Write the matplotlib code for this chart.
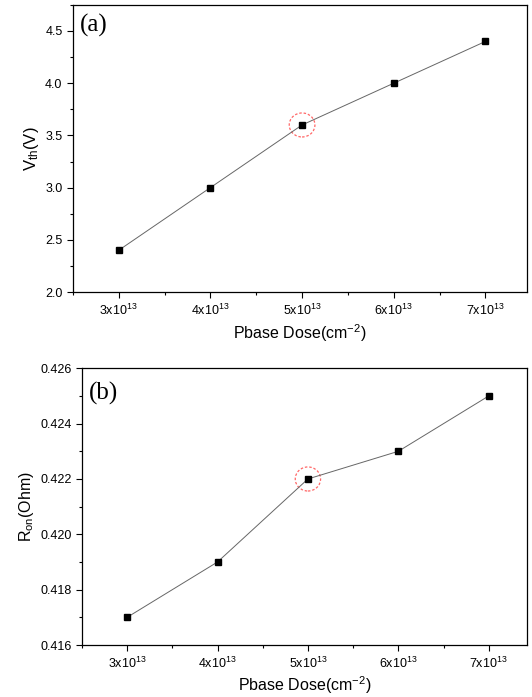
import matplotlib
matplotlib.use("Agg")
import matplotlib.pyplot as plt
from matplotlib.ticker import MultipleLocator, FuncFormatter
from matplotlib.patches import Ellipse

plt.rcParams["font.family"] = ["Liberation Sans", "DejaVu Sans"]
plt.rcParams["mathtext.default"] = "regular"

dose = [3, 4, 5, 6, 7]  # x 10^13 cm^-2
vth = [2.4, 3.0, 3.6, 4.0, 4.4]
ron = [0.417, 0.419, 0.422, 0.423, 0.425]
highlight = 2  # index of the chosen dose

fig = plt.figure(figsize=(5.32, 6.97), dpi=100)
ax1 = fig.add_axes([0.137, 0.581, 0.853, 0.412])
ax2 = fig.add_axes([0.154, 0.0746, 0.836, 0.397])


def dose_fmt(v, pos):
    return "%dx10$^{13}$" % round(v)


def style(ax):
    ax.xaxis.set_major_locator(MultipleLocator(1))
    ax.xaxis.set_minor_locator(MultipleLocator(0.5))
    ax.xaxis.set_major_formatter(FuncFormatter(dose_fmt))
    ax.tick_params(which="major", direction="out", length=4, width=0.8,
                   labelsize=9, top=False, right=False)
    ax.tick_params(which="minor", direction="out", length=2.5, width=0.8,
                   top=False, right=False)
    for s in ax.spines.values():
        s.set_linewidth(0.9)
    ax.set_xlabel("Pbase Dose(cm$^{-2}$)", fontsize=11.5, labelpad=3)


# (a) threshold voltage
ax1.plot(dose, vth, color="#666666", lw=0.7, marker="s", ms=5,
         mfc="black", mec="black")
ax1.set_xlim(2.5, 7.45)
ax1.set_ylim(2.0, 4.75)
ax1.yaxis.set_major_locator(MultipleLocator(0.5))
ax1.yaxis.set_minor_locator(MultipleLocator(0.25))
ax1.yaxis.set_major_formatter(FuncFormatter(lambda v, p: "%.1f" % v))
style(ax1)
ax1.set_ylabel("V$_{th}$(V)", fontsize=12, labelpad=3)
ax1.text(0.015, 0.97, "(a)", transform=ax1.transAxes, ha="left", va="top",
         fontsize=18, family="Liberation Serif")
ax1.add_patch(Ellipse((dose[highlight], vth[highlight]), 0.28, 0.23,
                      fill=False, ec="#ff6666", ls=(0, (2, 1.5)), lw=0.9))

# (b) on-resistance
ax2.plot(dose, ron, color="#666666", lw=0.7, marker="s", ms=5,
         mfc="black", mec="black")
ax2.set_xlim(2.5, 7.42)
ax2.set_ylim(0.416, 0.426)
ax2.yaxis.set_major_locator(MultipleLocator(0.002))
ax2.yaxis.set_minor_locator(MultipleLocator(0.001))
ax2.yaxis.set_major_formatter(FuncFormatter(lambda v, p: "%.3f" % v))
style(ax2)
ax2.set_ylabel("R$_{on}$(Ohm)", fontsize=11.5, labelpad=3)
ax2.text(0.015, 0.95, "(b)", transform=ax2.transAxes, ha="left", va="top",
         fontsize=18, family="Liberation Serif")
ax2.add_patch(Ellipse((dose[highlight], ron[highlight]), 0.28, 0.00087,
                      fill=False, ec="#ff6666", ls=(0, (2, 1.5)), lw=0.9))

fig.savefig("out.png", dpi=100)
